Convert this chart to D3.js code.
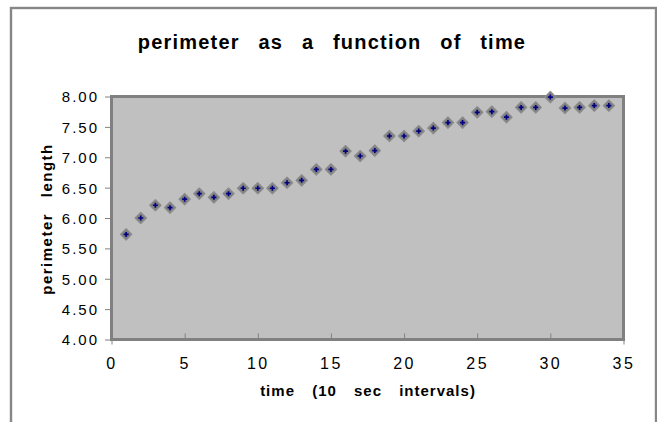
<!DOCTYPE html>
<html>
<head>
<meta charset="utf-8">
<script src="https://cdn.jsdelivr.net/npm/d3@7"></script>
<style>
  html, body { margin: 0; padding: 0; background: #fff; }
  svg { display: block; font-family: "Liberation Sans", Arial, sans-serif; }
</style>
</head>
<body>
<svg id="chart" width="657" height="422"></svg>
<script>
// ---- data ----
const times = [1, 2, 3, 4, 5, 6, 7, 8, 9, 10, 11, 12, 13, 14, 15, 16, 17,
               18, 19, 20, 21, 22, 23, 24, 25, 26, 27, 28, 29, 30, 31, 32, 33, 34];
const perimeter = [5.73, 6.00, 6.21, 6.17, 6.31, 6.40, 6.34, 6.40, 6.49, 6.49, 6.49,
                   6.58, 6.62, 6.80, 6.80, 7.10, 7.02, 7.11, 7.35, 7.35, 7.43, 7.48,
                   7.57, 7.57, 7.74, 7.75, 7.66, 7.82, 7.82, 7.99, 7.81, 7.82, 7.85, 7.85];
const xTicks = [0, 5, 10, 15, 20, 25, 30, 35];
const yTicks = [4.00, 4.50, 5.00, 5.50, 6.00, 6.50, 7.00, 7.50, 8.00];
const titleText = "perimeter as a function of time";
const xTitleText = "time (10 sec intervals)";
const yTitleText = "perimeter length";

const svg = d3.select("#chart");

// outer chart-area frame
svg.append("rect")
  .attr("x", 11).attr("y", 8).attr("width", 645).attr("height", 440)
  .attr("fill", "#fff").attr("stroke", "#878787").attr("stroke-width", 2.4);

const x = d3.scaleLinear().domain([0, 35]).range([111.5, 623.5]);
const y = d3.scaleLinear().domain([4, 8]).range([339.5, 96.5]);

// plot area
svg.append("rect")
  .attr("x", x(0)).attr("y", y(8))
  .attr("width", x(35) - x(0)).attr("height", y(4) - y(8))
  .attr("fill", "#c0c0c0").attr("stroke", "#808080").attr("stroke-width", 3);

// y axis
const yAxis = svg.append("g")
  .attr("transform", `translate(${x(0) - 1.5},0)`)
  .call(d3.axisLeft(y).tickValues(yTicks).tickSizeInner(5).tickSizeOuter(0)
        .tickPadding(6).tickFormat(d3.format(".2f")));
yAxis.select(".domain").remove();
yAxis.selectAll(".tick line").attr("stroke", "#808080").attr("stroke-width", 1);
yAxis.selectAll(".tick text")
  .attr("fill", "#000").style("font-size", "15px").style("letter-spacing", "2px")
  .attr("dy", "0.36em");

// x axis (ticks point inward)
const xAxis = svg.append("g")
  .attr("transform", `translate(0,${y(4) + 1})`)
  .call(d3.axisBottom(x).tickValues(xTicks).tickSizeInner(-7).tickSizeOuter(0)
        .tickFormat(d3.format("d")));
xAxis.select(".domain").remove();
xAxis.selectAll(".tick line").attr("stroke", "#808080").attr("stroke-width", 1);
xAxis.selectAll(".tick")
  .filter(d => d === xTicks[0] || d === xTicks[xTicks.length - 1])
  .append("line").attr("y1", 0).attr("y2", 4)
  .attr("stroke", "#808080").attr("stroke-width", 1);
xAxis.selectAll(".tick text")
  .attr("fill", "#000").attr("y", 28).attr("dy", 0)
  .style("font-size", "16px").style("letter-spacing", "2.5px");

// markers
const pts = svg.append("g").selectAll("g")
  .data(times.map((t, i) => ({ t, v: perimeter[i] })))
  .join("g")
  .attr("transform", d => `translate(${x(d.t)},${y(d.v)})`);
pts.append("path")
  .attr("d", d3.symbol(d3.symbolSquare, 64)())
  .attr("transform", "rotate(45)")
  .attr("fill", "#808080").attr("stroke", "#8c8c8c")
  .attr("stroke-width", 1.2).attr("stroke-linejoin", "round");
pts.append("path")
  .attr("d", d3.symbol(d3.symbolCross, 14)())
  .attr("fill", "#000080");

// titles
svg.append("text")
  .attr("x", 332).attr("y", 48.5).attr("text-anchor", "middle")
  .style("font-size", "20px").style("font-weight", "bold")
  .style("letter-spacing", "1.2px").style("word-spacing", "12px")
  .text(titleText);

svg.append("text")
  .attr("x", 368).attr("y", 396).attr("text-anchor", "middle")
  .style("font-size", "15px").style("font-weight", "bold")
  .style("letter-spacing", "1px").style("word-spacing", "12px")
  .text(xTitleText);

svg.append("text")
  .attr("transform", "translate(52,219) rotate(-90)")
  .attr("text-anchor", "middle")
  .style("font-size", "15px").style("font-weight", "bold")
  .style("letter-spacing", "1.5px").style("word-spacing", "10px")
  .text(yTitleText);
</script>
</body>
</html>
